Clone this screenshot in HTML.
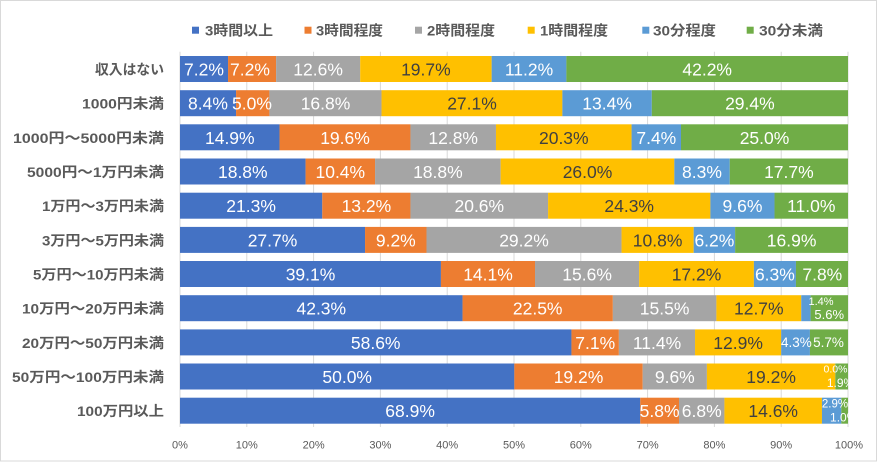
<!DOCTYPE html>
<html><head><meta charset="utf-8"><style>
html,body{margin:0;padding:0;background:#fff;}
svg{display:block;}
.cat{font-family:"Liberation Sans","Noto Sans CJK JP",sans-serif;font-weight:bold;font-size:14px;fill:#595959;}
.leg{font-family:"Liberation Sans","Noto Sans CJK JP",sans-serif;font-weight:bold;font-size:14px;fill:#595959;}
.ax{font-family:"Liberation Sans",sans-serif;font-size:11px;fill:#595959;}
.d{font-family:"Liberation Sans",sans-serif;font-size:17.5px;fill:#fff;}
.dk{fill:#404040;}
</style></head><body>
<svg width="880" height="463" viewBox="0 0 880 463" xmlns="http://www.w3.org/2000/svg">
<defs><clipPath id="pc"><rect x="180" y="40" width="669" height="400"/></clipPath></defs>
<rect x="0" y="0" width="880" height="463" fill="#fff"/>
<rect x="0.5" y="0.5" width="876" height="460.5" fill="none" stroke="#d9d9d9" stroke-width="1"/>

<!-- legend -->
<rect x="192" y="26.7" width="7" height="7" fill="#4472C4"/>
<text class="leg" x="205" y="30.5" dominant-baseline="central" textLength="68" lengthAdjust="spacingAndGlyphs">3時間以上</text>
<rect x="304.5" y="26.7" width="7" height="7" fill="#ED7D31"/>
<text class="leg" x="316" y="30.5" dominant-baseline="central" textLength="67" lengthAdjust="spacingAndGlyphs">3時間程度</text>
<rect x="415" y="26.7" width="7" height="7" fill="#A5A5A5"/>
<text class="leg" x="427" y="30.5" dominant-baseline="central" textLength="68" lengthAdjust="spacingAndGlyphs">2時間程度</text>
<rect x="527.7" y="26.7" width="7" height="7" fill="#FFC000"/>
<text class="leg" x="540" y="30.5" dominant-baseline="central" textLength="68" lengthAdjust="spacingAndGlyphs">1時間程度</text>
<rect x="642.3" y="26.7" width="7" height="7" fill="#5B9BD5"/>
<text class="leg" x="653" y="30.5" dominant-baseline="central" textLength="63" lengthAdjust="spacingAndGlyphs">30分程度</text>
<rect x="746.7" y="26.7" width="7" height="7" fill="#70AD47"/>
<text class="leg" x="759" y="30.5" dominant-baseline="central" textLength="64" lengthAdjust="spacingAndGlyphs">30分未満</text>

<!-- gridlines -->
<g stroke="#d9d9d9" stroke-width="1">
<line x1="180" y1="51.7" x2="180" y2="427"/>
<line x1="246.8" y1="51.7" x2="246.8" y2="427"/>
<line x1="313.6" y1="51.7" x2="313.6" y2="427"/>
<line x1="380.4" y1="51.7" x2="380.4" y2="427"/>
<line x1="447.2" y1="51.7" x2="447.2" y2="427"/>
<line x1="514" y1="51.7" x2="514" y2="427"/>
<line x1="580.8" y1="51.7" x2="580.8" y2="427"/>
<line x1="647.6" y1="51.7" x2="647.6" y2="427"/>
<line x1="714.4" y1="51.7" x2="714.4" y2="427"/>
<line x1="781.2" y1="51.7" x2="781.2" y2="427"/>
<line x1="848" y1="51.7" x2="848" y2="427"/>
</g>

<!-- axis labels -->
<g class="ax" text-anchor="middle">
<text x="180" y="448.5">0%</text>
<text x="246.8" y="448.5">10%</text>
<text x="313.6" y="448.5">20%</text>
<text x="380.4" y="448.5">30%</text>
<text x="447.2" y="448.5">40%</text>
<text x="514" y="448.5">50%</text>
<text x="580.8" y="448.5">60%</text>
<text x="647.6" y="448.5">70%</text>
<text x="714.4" y="448.5">80%</text>
<text x="781.2" y="448.5">90%</text>
<text x="849" y="448.5">100%</text>
</g>

<!-- category labels -->
<g class="cat" text-anchor="end" dominant-baseline="central">
<text x="164" y="69.5" textLength="69" lengthAdjust="spacingAndGlyphs">収入はない</text>
<text x="164" y="103.7" textLength="82" lengthAdjust="spacingAndGlyphs">1000円未満</text>
<text x="164" y="137.8" textLength="151" lengthAdjust="spacingAndGlyphs">1000円～5000円未満</text>
<text x="164" y="172" textLength="137" lengthAdjust="spacingAndGlyphs">5000円～1万円未満</text>
<text x="164" y="206.2" textLength="122" lengthAdjust="spacingAndGlyphs">1万円～3万円未満</text>
<text x="164" y="240.4" textLength="122" lengthAdjust="spacingAndGlyphs">3万円～5万円未満</text>
<text x="164" y="274.5" textLength="131" lengthAdjust="spacingAndGlyphs">5万円～10万円未満</text>
<text x="164" y="308.7" textLength="142" lengthAdjust="spacingAndGlyphs">10万円～20万円未満</text>
<text x="164" y="342.9" textLength="142" lengthAdjust="spacingAndGlyphs">20万円～50万円未満</text>
<text x="164" y="377" textLength="152" lengthAdjust="spacingAndGlyphs">50万円～100万円未満</text>
<text x="164" y="411.2" textLength="87" lengthAdjust="spacingAndGlyphs">100万円以上</text>
</g>

<!-- bars -->
<g>
<!-- row 1 -->
<rect x="180" y="56" width="48.05" height="26" fill="#4472C4"/>
<rect x="228.05" y="56" width="48.05" height="26" fill="#ED7D31"/>
<rect x="276.1" y="56" width="84.08" height="26" fill="#A5A5A5"/>
<rect x="360.18" y="56" width="131.46" height="26" fill="#FFC000"/>
<rect x="491.64" y="56" width="74.74" height="26" fill="#5B9BD5"/>
<rect x="566.38" y="56" width="281.62" height="26" fill="#70AD47"/>
<!-- row 2 -->
<rect x="180" y="90.2" width="56.06" height="26" fill="#4472C4"/>
<rect x="236.06" y="90.2" width="33.36" height="26" fill="#ED7D31"/>
<rect x="269.42" y="90.2" width="112.11" height="26" fill="#A5A5A5"/>
<rect x="381.53" y="90.2" width="180.85" height="26" fill="#FFC000"/>
<rect x="562.38" y="90.2" width="89.42" height="26" fill="#5B9BD5"/>
<rect x="651.8" y="90.2" width="196.2" height="26" fill="#70AD47"/>
<!-- row 3 -->
<rect x="180" y="124.3" width="99.53" height="26" fill="#4472C4"/>
<rect x="279.53" y="124.3" width="130.93" height="26" fill="#ED7D31"/>
<rect x="410.46" y="124.3" width="85.5" height="26" fill="#A5A5A5"/>
<rect x="495.96" y="124.3" width="135.61" height="26" fill="#FFC000"/>
<rect x="631.57" y="124.3" width="49.43" height="26" fill="#5B9BD5"/>
<rect x="681" y="124.3" width="167" height="26" fill="#70AD47"/>
<!-- row 4 -->
<rect x="180" y="158.5" width="125.58" height="26" fill="#4472C4"/>
<rect x="305.58" y="158.5" width="69.48" height="26" fill="#ED7D31"/>
<rect x="375.06" y="158.5" width="125.58" height="26" fill="#A5A5A5"/>
<rect x="500.64" y="158.5" width="173.68" height="26" fill="#FFC000"/>
<rect x="674.32" y="158.5" width="55.44" height="26" fill="#5B9BD5"/>
<rect x="729.76" y="158.5" width="118.24" height="26" fill="#70AD47"/>
<!-- row 5 -->
<rect x="180" y="192.7" width="142.28" height="26" fill="#4472C4"/>
<rect x="322.28" y="192.7" width="88.18" height="26" fill="#ED7D31"/>
<rect x="410.46" y="192.7" width="137.61" height="26" fill="#A5A5A5"/>
<rect x="548.07" y="192.7" width="162.32" height="26" fill="#FFC000"/>
<rect x="710.39" y="192.7" width="64.13" height="26" fill="#5B9BD5"/>
<rect x="774.52" y="192.7" width="73.48" height="26" fill="#70AD47"/>
<!-- row 6 -->
<rect x="180" y="226.9" width="185.04" height="26" fill="#4472C4"/>
<rect x="365.04" y="226.9" width="61.45" height="26" fill="#ED7D31"/>
<rect x="426.49" y="226.9" width="195.06" height="26" fill="#A5A5A5"/>
<rect x="621.55" y="226.9" width="72.14" height="26" fill="#FFC000"/>
<rect x="693.69" y="226.9" width="41.42" height="26" fill="#5B9BD5"/>
<rect x="735.11" y="226.9" width="112.89" height="26" fill="#70AD47"/>
<!-- row 7 -->
<rect x="180" y="261" width="260.93" height="26" fill="#4472C4"/>
<rect x="440.93" y="261" width="94.09" height="26" fill="#ED7D31"/>
<rect x="535.02" y="261" width="104.1" height="26" fill="#A5A5A5"/>
<rect x="639.12" y="261" width="114.78" height="26" fill="#FFC000"/>
<rect x="753.9" y="261" width="42.04" height="26" fill="#5B9BD5"/>
<rect x="795.94" y="261" width="52.06" height="26" fill="#70AD47"/>
<!-- row 8 -->
<rect x="180" y="295.2" width="282.56" height="26" fill="#4472C4"/>
<rect x="462.56" y="295.2" width="150.3" height="26" fill="#ED7D31"/>
<rect x="612.86" y="295.2" width="103.54" height="26" fill="#A5A5A5"/>
<rect x="716.4" y="295.2" width="84.84" height="26" fill="#FFC000"/>
<rect x="801.24" y="295.2" width="9.35" height="26" fill="#5B9BD5"/>
<rect x="810.59" y="295.2" width="37.41" height="26" fill="#70AD47"/>
<!-- row 9 -->
<rect x="180" y="329.4" width="391.45" height="26" fill="#4472C4"/>
<rect x="571.45" y="329.4" width="47.43" height="26" fill="#ED7D31"/>
<rect x="618.88" y="329.4" width="76.15" height="26" fill="#A5A5A5"/>
<rect x="695.03" y="329.4" width="86.17" height="26" fill="#FFC000"/>
<rect x="781.2" y="329.4" width="28.72" height="26" fill="#5B9BD5"/>
<rect x="809.92" y="329.4" width="38.08" height="26" fill="#70AD47"/>
<!-- row 10 -->
<rect x="180" y="363.5" width="334.33" height="26" fill="#4472C4"/>
<rect x="514.33" y="363.5" width="128.39" height="26" fill="#ED7D31"/>
<rect x="642.72" y="363.5" width="64.19" height="26" fill="#A5A5A5"/>
<rect x="706.91" y="363.5" width="128.39" height="26" fill="#FFC000"/>
<rect x="835.3" y="363.5" width="12.7" height="26" fill="#70AD47"/>
<!-- row 11 -->
<rect x="180" y="397.7" width="460.25" height="26" fill="#4472C4"/>
<rect x="640.25" y="397.7" width="38.75" height="26" fill="#ED7D31"/>
<rect x="679" y="397.7" width="45.42" height="26" fill="#A5A5A5"/>
<rect x="724.42" y="397.7" width="97.53" height="26" fill="#FFC000"/>
<rect x="821.95" y="397.7" width="19.37" height="26" fill="#5B9BD5"/>
<rect x="841.32" y="397.7" width="6.68" height="26" fill="#70AD47"/>
</g>

<!-- data labels -->
<g class="d" text-anchor="middle" dominant-baseline="central">
<text x="204" y="69.5">7.2%</text>
<text x="250" y="69.5">7.2%</text>
<text x="318.1" y="69.5">12.6%</text>
<text x="425.9" y="69.5" class="d dk">19.7%</text>
<text x="529" y="69.5">11.2%</text>
<text x="707.2" y="69.5">42.2%</text>

<text x="208" y="103.7">8.4%</text>
<text x="252" y="103.7">5.0%</text>
<text x="325.5" y="103.7">16.8%</text>
<text x="472" y="103.7" class="d dk">27.1%</text>
<text x="607.1" y="103.7">13.4%</text>
<text x="749.9" y="103.7">29.4%</text>

<text x="229.8" y="137.8">14.9%</text>
<text x="345" y="137.8">19.6%</text>
<text x="453.2" y="137.8">12.8%</text>
<text x="563.8" y="137.8" class="d dk">20.3%</text>
<text x="656.3" y="137.8">7.4%</text>
<text x="764.5" y="137.8">25.0%</text>

<text x="242.8" y="172">18.8%</text>
<text x="340.3" y="172">10.4%</text>
<text x="437.9" y="172">18.8%</text>
<text x="587.5" y="172" class="d dk">26.0%</text>
<text x="702" y="172">8.3%</text>
<text x="788.9" y="172">17.7%</text>

<text x="251.1" y="206.2">21.3%</text>
<text x="366.4" y="206.2">13.2%</text>
<text x="479.3" y="206.2">20.6%</text>
<text x="629.2" y="206.2" class="d dk">24.3%</text>
<text x="742.5" y="206.2">9.6%</text>
<text x="811.3" y="206.2">11.0%</text>

<text x="272.5" y="240.4">27.7%</text>
<text x="395.8" y="240.4">9.2%</text>
<text x="524" y="240.4">29.2%</text>
<text x="657.6" y="240.4" class="d dk">10.8%</text>
<text x="714.4" y="240.4">6.2%</text>
<text x="791.6" y="240.4">16.9%</text>

<text x="310.5" y="274.5">39.1%</text>
<text x="488" y="274.5">14.1%</text>
<text x="587.1" y="274.5">15.6%</text>
<text x="696.5" y="274.5" class="d dk">17.2%</text>
<text x="774.9" y="274.5">6.3%</text>
<text x="822.3" y="274.5">7.8%</text>

<text x="321.3" y="308.7">42.3%</text>
<text x="537.7" y="308.7">22.5%</text>
<text x="664.6" y="308.7">15.5%</text>
<text x="758.8" y="308.7" class="d dk">12.7%</text>

<text x="375.7" y="342.9">58.6%</text>
<text x="595.2" y="342.9">7.1%</text>
<text x="657" y="342.9">11.4%</text>
<text x="738.1" y="342.9" class="d dk">12.9%</text>

<text x="347.2" y="377">50.0%</text>
<text x="578.5" y="377">19.2%</text>
<text x="674.8" y="377">9.6%</text>
<text x="771.1" y="377" class="d dk">19.2%</text>

<text x="410.1" y="411.2">68.9%</text>
<text x="659.6" y="411.2">5.8%</text>
<text x="701.7" y="411.2">6.8%</text>
<text x="773.2" y="411.2" class="d dk">14.6%</text>
</g>

<!-- small labels -->
<g text-anchor="middle" dominant-baseline="central" fill="#fff" font-family="Liberation Sans, sans-serif" clip-path="url(#pc)">
<text x="821" y="302" font-size="11px">1.4%</text>
<text x="829.2" y="314.5" font-size="13px">5.6%</text>
<text x="796.4" y="342.4" font-size="13.5px">4.3%</text>
<text x="828.5" y="342.4" font-size="13.5px">5.7%</text>
<text x="835.5" y="369.5" font-size="10.5px">0.0%</text>
<text x="840.5" y="383" font-size="12px">1.9%</text>
<text x="835" y="404.5" font-size="11.5px">2.9%</text>
<text x="843.7" y="417.5" font-size="12px">1.0%</text>
</g>
</svg>
</body></html>
